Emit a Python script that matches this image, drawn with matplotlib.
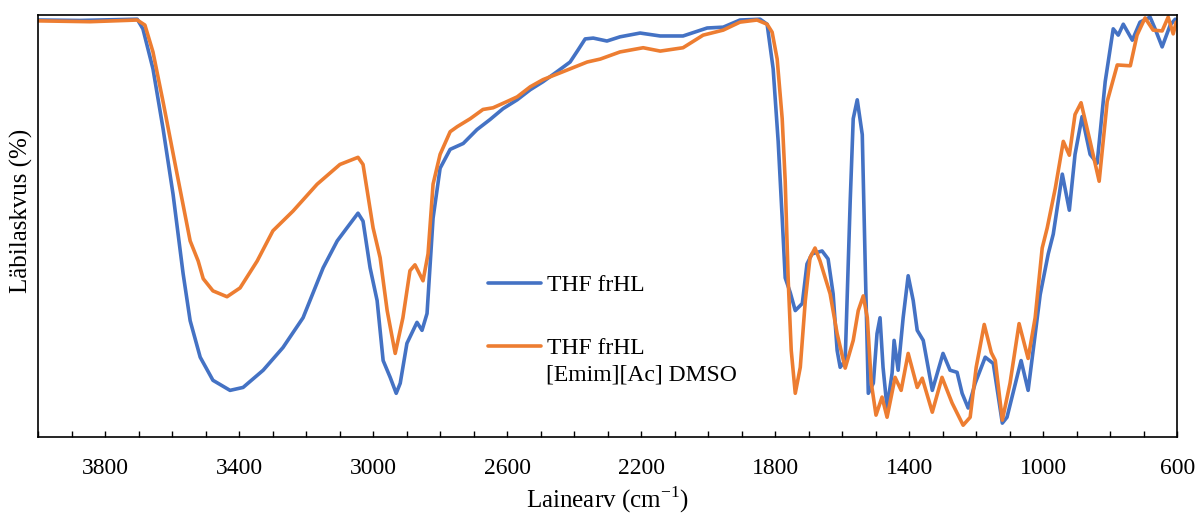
import matplotlib
matplotlib.use("Agg")
import matplotlib.pyplot as plt
from matplotlib.ticker import FixedLocator, MultipleLocator

plt.rcParams["font.family"] = ["Liberation Serif", "DejaVu Serif"]
plt.rcParams["mathtext.fontset"] = "custom"
plt.rcParams["mathtext.rm"] = "Liberation Serif"

# ---------- data ----------
# THF frHL (blue)
wn_thf = [4000, 3875, 3704, 3687, 3657, 3627, 3597, 3567, 3546, 3516,
          3478, 3427, 3388, 3328, 3269, 3209, 3149, 3107, 3078, 3045,
          3030, 3009, 2988, 2970, 2949, 2931, 2919, 2899, 2869, 2854,
          2839, 2821, 2800, 2770, 2731, 2690, 2651, 2612, 2570, 2531,
          2493, 2451, 2412, 2388, 2367, 2343, 2302, 2263, 2203, 2143,
          2075, 2003, 1955, 1905, 1845, 1824, 1806, 1791, 1779, 1770,
          1755, 1740, 1719, 1705, 1690, 1660, 1642, 1627, 1615, 1606,
          1591, 1576, 1567, 1555, 1540, 1531, 1522, 1507, 1496, 1487,
          1478, 1466, 1451, 1445, 1433, 1418, 1403, 1388, 1376, 1358,
          1331, 1299, 1278, 1257, 1242, 1224, 1203, 1173, 1149, 1122,
          1108, 1066, 1045, 1030, 1009, 985, 970, 943, 922, 905,
          884, 860, 839, 815, 791, 776, 761, 734, 711, 681,
          666, 645, 621, 606]
tr_thf = [99.3, 99.2, 99.5, 97.2, 87.7, 73.5, 57.8, 38.9, 27.7, 19.0,
          13.5, 11.1, 11.8, 15.9, 21.3, 28.4, 40.3, 46.7, 49.8, 53.3,
          51.4, 40.3, 32.5, 18.2, 14.2, 10.4, 12.8, 22.3, 27.3, 25.4,
          29.4, 52.1, 64.0, 68.5, 69.9, 73.2, 75.6, 78.2, 80.3, 82.7,
          84.6, 87.0, 89.3, 92.2, 94.8, 95.0, 94.3, 95.3, 96.2, 95.5,
          95.5, 97.4, 97.6, 99.3, 99.5, 98.3, 87.7, 70.4, 52.1, 37.9,
          34.4, 30.1, 31.8, 41.2, 43.6, 44.3, 42.4, 34.1, 20.6, 16.6,
          18.2, 56.2, 75.8, 80.3, 72.0, 40.3, 10.4, 12.8, 24.6, 28.4,
          16.6, 6.9, 15.2, 23.0, 15.9, 28.4, 38.4, 32.5, 25.4, 23.0,
          11.1, 19.9, 15.9, 15.4, 10.4, 6.9, 12.8, 19.0, 17.5, 3.3,
          4.7, 18.2, 11.1, 20.6, 33.9, 43.6, 48.3, 62.6, 54.0, 67.3,
          76.3, 67.3, 65.2, 84.6, 97.2, 95.7, 98.3, 94.5, 98.8, 100.0,
          97.2, 92.9, 98.1, 99.5]

# THF frHL [Emim][Ac] DMSO (orange)
wn_il = [4000, 3845, 3704, 3681, 3657, 3627, 3585, 3546, 3522, 3507,
         3478, 3436, 3397, 3346, 3299, 3239, 3167, 3099, 3045, 3030,
         3000, 2979, 2958, 2934, 2911, 2890, 2875, 2851, 2836, 2821,
         2800, 2770, 2749, 2710, 2672, 2642, 2600, 2570, 2531, 2493,
         2433, 2361, 2322, 2263, 2194, 2143, 2075, 2015, 1955, 1905,
         1854, 1824, 1809, 1794, 1779, 1770, 1761, 1752, 1740, 1725,
         1710, 1696, 1681, 1666, 1636, 1615, 1591, 1567, 1552, 1537,
         1525, 1513, 1499, 1481, 1466, 1442, 1424, 1403, 1376, 1361,
         1331, 1302, 1272, 1239, 1218, 1200, 1176, 1155, 1143, 1122,
         1099, 1072, 1045, 1024, 1003, 988, 964, 940, 922, 905,
         887, 860, 833, 809, 779, 740, 720, 696, 672, 645,
         627, 612, 603]
tr_il = [99.1, 98.9, 99.3, 98.1, 91.7, 79.9, 62.6, 46.7, 41.9, 37.7,
         34.8, 33.4, 35.5, 41.9, 49.1, 53.8, 60.2, 64.9, 66.6, 64.9,
         49.8, 42.7, 30.1, 19.9, 28.4, 39.6, 41.0, 37.2, 43.6, 60.2,
         67.3, 72.7, 73.9, 75.8, 78.0, 78.4, 79.9, 81.0, 83.4, 85.1,
         87.0, 89.3, 90.0, 91.7, 92.7, 91.9, 92.7, 95.7, 96.9, 98.8,
         99.3, 98.3, 96.4, 90.0, 75.8, 60.9, 37.2, 20.6, 10.4, 16.6,
         32.5, 42.7, 45.0, 41.9, 34.1, 24.6, 16.4, 23.0, 30.1, 33.6,
         28.4, 12.8, 5.2, 9.5, 4.7, 14.2, 11.1, 19.9, 11.8, 14.0,
         5.9, 14.2, 8.1, 2.8, 4.7, 16.6, 26.8, 20.1, 18.2, 4.0,
         12.8, 27.0, 18.7, 28.4, 45.0, 49.8, 59.2, 70.4, 67.1, 76.8,
         79.6, 70.4, 60.9, 79.9, 88.6, 88.4, 95.7, 99.8, 96.9, 96.7,
         100.0, 96.0, 98.8]

labels = ["THF frHL", "THF frHL"]
extra_label = "[Emim][Ac] DMSO"
tick_values = [3800, 3400, 3000, 2600, 2200, 1800, 1400, 1000, 600]

BLUE = "#4472C4"
ORANGE = "#ED7D31"

fig = plt.figure(figsize=(11.96, 5.15), dpi=100)
ax = fig.add_axes([0.0318, 0.1515, 0.9525, 0.8194])

line_thf, = ax.plot(wn_thf, tr_thf, color=BLUE, linewidth=2.6,
                    solid_joinstyle="round", solid_capstyle="round")
line_il, = ax.plot(wn_il, tr_il, color=ORANGE, linewidth=2.6,
                   solid_joinstyle="round", solid_capstyle="round")

ax.set_xlim(4000, 600)
ax.set_ylim(0, 100.5)

ax.xaxis.set_major_locator(FixedLocator(tick_values))
ax.xaxis.set_minor_locator(MultipleLocator(100))
ax.tick_params(axis="x", which="both", direction="in", length=4,
               width=1, pad=15, labelsize=17, top=False)
ax.set_yticks([])

for sp in ax.spines.values():
    sp.set_linewidth(1.2)
    sp.set_color("black")

ax.set_xlabel("Lainearv (cm$^{-1}$)", fontsize=18, labelpad=4)
ax.set_ylabel("Läbilaskvus (%)", fontsize=18)
ax.yaxis.set_label_coords(-0.0045, 0.535)

leg = ax.legend([line_thf, line_il], labels, loc="upper left",
                bbox_to_anchor=(0.395, 0.385), frameon=False,
                fontsize=17, handlelength=2.25, handletextpad=0.25,
                labelspacing=1.75, borderpad=0, borderaxespad=0)
ax.text(0.446, 0.147, extra_label, transform=ax.transAxes,
        fontsize=17, va="center", ha="left")

fig.savefig("out.png", dpi=100)
